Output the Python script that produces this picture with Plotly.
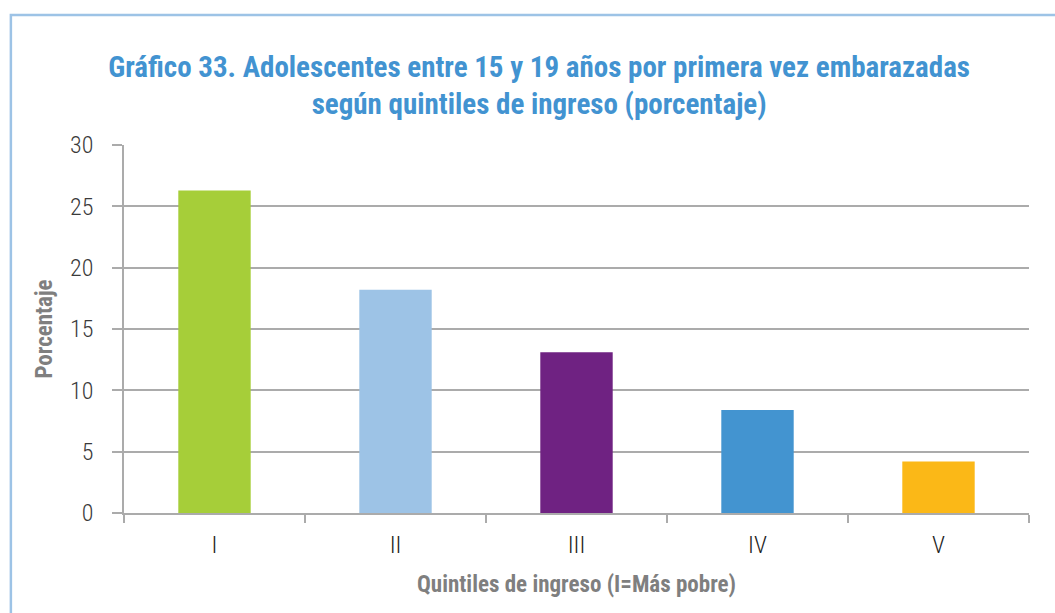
import plotly.graph_objects as go

# Quintiles de ingreso y porcentaje de adolescentes embarazadas por primera vez
quintiles = ["I", "II", "III", "IV", "V"]
porcentaje = [26.3, 18.2, 13.1, 8.4, 4.2]
colores = ["#A6CE39", "#9DC3E6", "#6F2282", "#4394D0", "#FBB817"]
y_ticks = [0, 5, 10, 15, 20, 25, 30]

titulo = ("Gráfico 33. Adolescentes entre 15 y 19 años por primera vez embarazadas"
          "<br>según quintiles de ingreso (porcentaje)")
eje_x = "Quintiles de ingreso (I=Más pobre)"
eje_y = "Porcentaje"

COND = "Roboto Condensed, Liberation Sans Narrow, DejaVu Sans Condensed, sans-serif"
GRID = "#ABABAB"

fig = go.Figure(
    go.Bar(
        x=quintiles,
        y=porcentaje,
        marker=dict(color=colores, line=dict(width=0)),
        width=0.4,
        hoverinfo="x+y",
    )
)

fig.update_layout(
    width=1055,
    height=613,
    margin=dict(l=124, r=26, t=145, b=100),
    paper_bgcolor="white",
    plot_bgcolor="white",
    showlegend=False,
    title=dict(
        text=titulo,
        font=dict(family=COND, size=29, color="#4293D1", weight="bold"),
        x=0.511,
        xanchor="center",
        y=0.875,
        yanchor="middle",
    ),
    xaxis=dict(
        title=dict(text=eje_x, font=dict(family=COND, size=23, color="#7F7F7F", weight="bold"), standoff=18),
        tickfont=dict(family=COND, size=24, color="#222222", weight=300),
        ticklabelstandoff=9,
        showline=True,
        linecolor=GRID,
        linewidth=2,
        ticks="outside",
        tickson="boundaries",
        ticklen=8,
        tickcolor=GRID,
        tickwidth=1.5,
        showgrid=False,
    ),
    yaxis=dict(
        title=dict(text=eje_y, font=dict(family=COND, size=23, color="#7F7F7F", weight="bold"), standoff=11),
        tickfont=dict(family=COND, size=24, color="#3A3A3A", weight=300),
        ticklabelstandoff=14,
        range=[0, 30],
        tickvals=y_ticks,
        showline=True,
        linecolor=GRID,
        linewidth=1.5,
        ticks="outside",
        ticklen=10,
        tickcolor=GRID,
        tickwidth=1.5,
        showgrid=True,
        gridcolor=GRID,
        gridwidth=1.5,
        zeroline=False,
    ),
    shapes=[
        dict(
            type="rect",
            xref="paper",
            yref="paper",
            x0=-0.125,
            x1=1.2,
            y0=-0.5,
            y1=1.353,
            line=dict(color="#9DC3E6", width=2.5),
            fillcolor="rgba(0,0,0,0)",
            layer="below",
        )
    ],
)

fig.write_html("out.html")
